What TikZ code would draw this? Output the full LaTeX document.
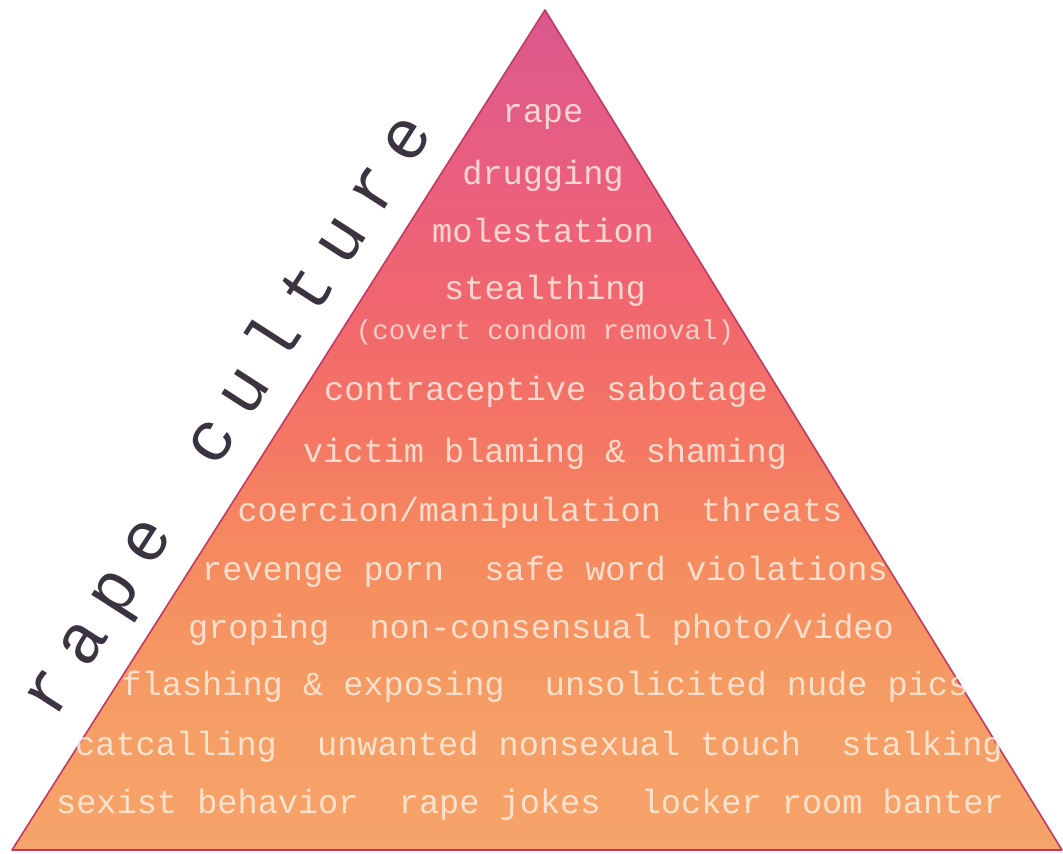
\documentclass[tikz,border=0pt]{standalone}
\usepackage{fontspec}
\newfontfamily\pyrfont{Liberation Mono}
\definecolor{cB}{HTML}{F6A46A}
\definecolor{cA}{HTML}{F59C64}
\definecolor{cC}{HTML}{F58A5F}
\definecolor{cD}{HTML}{F47465}
\definecolor{cE}{HTML}{F1666F}
\definecolor{cF}{HTML}{EA5F7E}
\definecolor{cG}{HTML}{E05B8A}
\definecolor{cT}{HTML}{D9578F}
\definecolor{edge}{HTML}{C23A62}
\definecolor{rcgray}{HTML}{3B3440}
\definecolor{cream}{HTML}{FFF1E4}
\pgfdeclareverticalshading{pyrshade}{100bp}{
  color(0bp)=(cB); color(25bp)=(cB); color(33.9bp)=(cA); color(42.9bp)=(cC);
  color(50.6bp)=(cD); color(57.7bp)=(cE); color(64.9bp)=(cF); color(72bp)=(cG);
  color(75bp)=(cT); color(100bp)=(cT)}
\tikzset{
  pyrtext/.style={font=\pyrfont\fontsize{33.6}{36}\selectfont, text=cream, text opacity=0.82, anchor=base, inner sep=0pt},
  pyrsmall/.style={font=\pyrfont\fontsize{27.4}{30}\selectfont, text=cream, text opacity=0.75, anchor=base, inner sep=0pt},
  titletext/.style={font=\pyrfont\fontsize{70}{72}\selectfont, text=rcgray, anchor=base, inner sep=0pt, rotate=57.2}
}
\begin{document}
\begin{tikzpicture}[x=1pt,y=-1pt]
\useasboundingbox (0,0) rectangle (1063,854);
\fill[white] (0,0) rectangle (1063,854);
\coordinate (apex) at (545,10);
\coordinate (bl) at (12,850);
\coordinate (br) at (1062,850);
\shade[shading=pyrshade, draw=edge, line width=1.6pt, line join=round] (apex) -- (br) -- (bl) -- cycle;
\foreach \ch [count=\i from 0] in {r,a,p,e,{},c,u,l,t,u,r,e}{
  \node[titletext] (rc\i) at ({50+16+32.45*\i},{693+10-50.27*\i}) {\ch};
}
\node[pyrtext] (t1) at (543,122) {rape};
\node[pyrtext] (t2) at (543,184) {drugging};
\node[pyrtext] (t3) at (543,242) {molestation};
\node[pyrtext] (t4) at (545,299) {stealthing};
\node[pyrsmall] (t4b) at (545,339) {(covert condom removal)};
\node[pyrtext] (t5) at (546,400) {contraceptive sabotage};
\node[pyrtext] (t6) at (545,462) {victim blaming \& shaming};
\node[pyrtext] (t7) at (540,521) {coercion/manipulation\ \ threats};
\node[pyrtext] (t8) at (545,580) {revenge porn\ \ safe word violations};
\node[pyrtext] (t9) at (541,638) {groping\ \ non-consensual photo/video};
\node[pyrtext] (t10) at (545,695) {flashing \& exposing\ \ unsolicited nude pics};
\node[pyrtext] (t11) at (539,755) {catcalling\ \ unwanted nonsexual touch\ \ stalking};
\node[pyrtext] (t12) at (530,813) {sexist behavior\ \ rape jokes\ \ locker room banter};
\end{tikzpicture}
\end{document}
